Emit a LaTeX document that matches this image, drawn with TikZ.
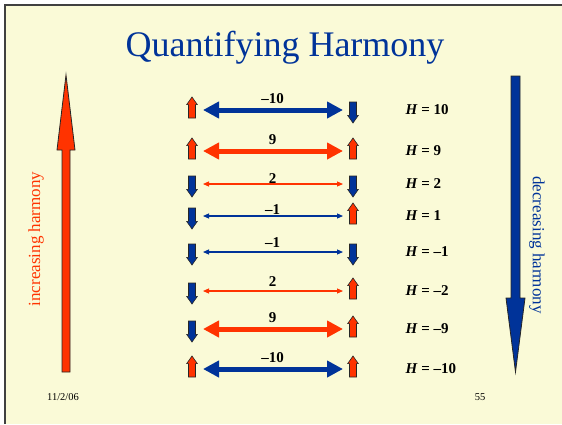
\documentclass[tikz,border=0pt]{standalone}
\usepackage{fontspec}
\setmainfont{Liberation Serif}
\usetikzlibrary{arrows.meta,positioning,shapes.arrows}
\definecolor{slidebg}{RGB}{250,250,215}
\definecolor{hred}{RGB}{255,51,0}
\definecolor{hblue}{RGB}{0,51,153}

\begin{document}
\begin{tikzpicture}[
    x=1pt, y=-1pt,
    spin/.style={single arrow, draw=black!85, line width=0.6pt, inner sep=3.2pt, minimum height=21pt, single arrow head extend=1.8pt, single arrow tip angle=70},
    upspin/.style={spin, fill=hred, shape border rotate=90},
    downspin/.style={spin, fill=hblue, shape border rotate=270},
    thickbond/.style={line width=5pt, {Triangle[length=16pt,width=16pt]}-{Triangle[length=16pt,width=16pt]}, shorten <=11pt, shorten >=10pt},
    thinbond/.style={line width=1.1pt, {Triangle[length=6pt,width=5pt]}-{Triangle[length=6pt,width=5pt]}, shorten <=11pt, shorten >=10pt},
    bond/.style={font=\fontsize{15}{17}\selectfont\bfseries, text=black, above=1pt},
    energy/.style={font=\fontsize{15}{17}\selectfont\bfseries, anchor=west},
    bigarrow/.style={draw=black!85, line width=0.8pt}
]
% slide frame
\useasboundingbox (0,0) rectangle (562,424);
\fill[white] (0,0) rectangle (562,424);
\fill[slidebg] (5,5) rectangle (562,424);
\draw[line width=1.5pt, black!75] (5,424) -- (5,5) -- (562,5);

\node[text=hblue, font=\fontsize{36}{40}\selectfont, anchor=base] (title) at (285,56) {Quantifying Harmony};

% big arrows at the sides
\draw[bigarrow, fill=hred] (62,372) -- (62,150) -- (57,150) -- (66,75) -- (75,150) -- (70,150) -- (70,372) -- cycle;
\draw[bigarrow, fill=hblue] (511,76) -- (511,298) -- (506,298) -- (515.5,372) -- (525,298) -- (520,298) -- (520,76) -- cycle;
\node[rotate=90, text=hred, font=\fontsize{17}{20}\selectfont] (incr) at (36,239) {increasing harmony};
\node[rotate=-90, text=hblue, font=\fontsize{17}{20}\selectfont] (decr) at (537,245) {decreasing harmony};

% pairs of spins
\node[upspin] (l1) at (192,110) {};
\node[downspin] (r1) at (353,110) {};
\draw[thickbond, hblue] (l1.center) -- node[bond] {–10} (r1.center);
\node[energy, right=49pt of r1.center] (h1) {\textit{H} = 10};

\node[upspin] (l2) at (192,151) {};
\node[upspin] (r2) at (353,151) {};
\draw[thickbond, hred] (l2.center) -- node[bond] {9} (r2.center);
\node[energy, right=49pt of r2.center] (h2) {\textit{H} = 9};

\node[downspin] (l3) at (192,184) {};
\node[downspin] (r3) at (353,184) {};
\draw[thinbond, hred] (l3.center) -- node[bond, above=-3pt] {2} (r3.center);
\node[energy, right=49pt of r3.center] (h3) {\textit{H} = 2};

\node[downspin] (l4) at (192,216) {};
\node[upspin] (r4) at (353,216) {};
\draw[thinbond, hblue] (l4.center) -- node[bond, above=-2pt] {–1} (r4.center);
\node[energy, right=49pt of r4.center] (h4) {\textit{H} = 1};

\node[downspin] (l5) at (192,252) {};
\node[downspin] (r5) at (353,252) {};
\draw[thinbond, hblue] (l5.center) -- node[bond] {–1} (r5.center);
\node[energy, right=49pt of r5.center] (h5) {\textit{H} = –1};

\node[downspin] (l6) at (192,291) {};
\node[upspin] (r6) at (353,291) {};
\draw[thinbond, hred] (l6.center) -- node[bond] {2} (r6.center);
\node[energy, right=49pt of r6.center] (h6) {\textit{H} = –2};

\node[downspin] (l7) at (192,329) {};
\node[upspin] (r7) at (353,329) {};
\draw[thickbond, hred] (l7.center) -- node[bond] {9} (r7.center);
\node[energy, right=49pt of r7.center] (h7) {\textit{H} = –9};

\node[upspin] (l8) at (192,369) {};
\node[upspin] (r8) at (353,369) {};
\draw[thickbond, hblue] (l8.center) -- node[bond] {–10} (r8.center);
\node[energy, right=49pt of r8.center] (h8) {\textit{H} = –10};

% footer
\node[font=\fontsize{10.5}{12}\selectfont] (date) at (63,397) {11/2/06};
\node[font=\fontsize{10.5}{12}\selectfont] (page) at (480,397) {55};
\end{tikzpicture}
\end{document}
